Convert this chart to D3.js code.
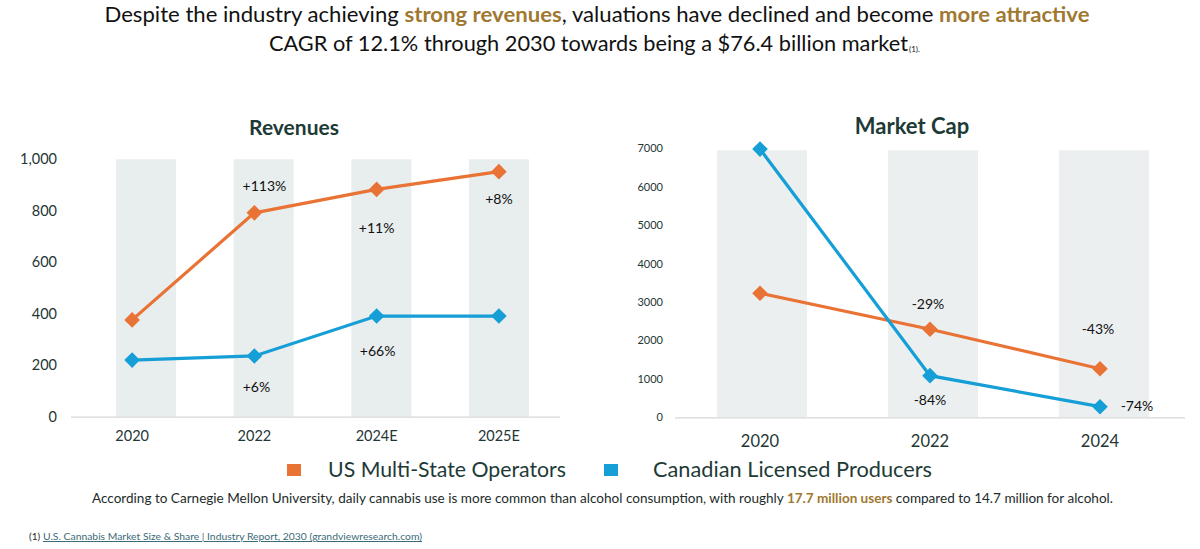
<!DOCTYPE html>
<html><head><meta charset="utf-8">
<script src="https://cdn.jsdelivr.net/npm/d3@7"></script>
<style>
html,body{margin:0;padding:0;background:#fff;}
svg{display:block;font-family:Lato,"Open Sans",sans-serif;}
</style></head>
<body>
<svg id="chart" width="1200" height="549"></svg>
<script>
// ---------- DATA ----------
const seriesNames = ["US Multi-State Operators", "Canadian Licensed Producers"];
const revCategories = ["2020", "2022", "2024E", "2025E"];
const revUS = [376, 792, 883, 952];
const revCA = [220, 236, 391, 391];
const revUSLabels = ["", "+113%", "+11%", "+8%"];
const revCALabels = ["", "+6%", "+66%", ""];
const revTicks = [0, 200, 400, 600, 800, 1000];

const capCategories = ["2020", "2022", "2024"];
const capUS = [3227, 2290, 1265];
const capCA = [6980, 1083, 276];
const capUSLabels = ["", "-29%", "-43%"];
const capCALabels = ["", "-84%", "-74%"];
const capTicks = [0, 1000, 2000, 3000, 4000, 5000, 6000, 7000];

// ---------- STYLE / LAYOUT ----------
const ORANGE = "#e97235", BLUE = "#159fd6", GOLD = "#a07830", DARK = "#1e3a36", TXT = "#243634";
const svg = d3.select("#chart");
const defs = svg.append("defs");
const f = defs.append("filter").attr("id", "sh").attr("x", "-5%").attr("y", "-200%").attr("width", "110%").attr("height", "600%");
f.append("feDropShadow").attr("dx", 0).attr("dy", 3).attr("stdDeviation", 2).attr("flood-color", "#000").attr("flood-opacity", 0.13);

// Header
const h1 = svg.append("text").attr("x", 597).attr("y", 22).attr("text-anchor", "middle")
  .attr("font-size", 21).attr("fill", "#111").attr("textLength", 985).attr("lengthAdjust", "spacingAndGlyphs");
h1.append("tspan").text("Despite the industry achieving ");
h1.append("tspan").attr("font-weight", "bold").attr("fill", GOLD).text("strong revenues");
h1.append("tspan").text(", valuations have declined and become ");
h1.append("tspan").attr("font-weight", "bold").attr("fill", GOLD).text("more attractive");
svg.append("text").attr("x", 269).attr("y", 51).attr("font-size", 21).attr("fill", "#111")
  .attr("textLength", 639).attr("lengthAdjust", "spacingAndGlyphs")
  .text("CAGR of 12.1% through 2030 towards being a $76.4 billion market");
svg.append("text").attr("x", 909).attr("y", 52).attr("font-size", 8).attr("fill", "#111").text("(1).");

function drawChart(cfg) {
  const g = svg.append("g");
  const y = d3.scaleLinear().domain(cfg.domain).range([cfg.y0, cfg.y1]);
  const xLine = d3.scaleBand().domain(cfg.cats).range([cfg.gx0, cfg.gx1]);
  const xCol = d3.scalePoint().domain(cfg.cats).range(cfg.colRange);
  // columns
  g.selectAll("rect.col").data(cfg.cats).join("rect").attr("class", "col")
    .attr("x", d => xCol(d) - cfg.colW / 2).attr("width", cfg.colW)
    .attr("y", y(cfg.domain[1]) + cfg.colTopPad).attr("height", y(0) - y(cfg.domain[1]) - cfg.colTopPad)
    .attr("fill", cfg.colFill);
  // y axis with gridlines
  const ax = g.append("g").attr("transform", `translate(${cfg.gx0},0)`)
    .call(d3.axisLeft(y).tickValues(cfg.ticks).tickSize(-(cfg.gx1 - cfg.gx0)).tickPadding(cfg.tickPad).tickFormat(cfg.fmt));
  ax.select(".domain").remove();
  ax.selectAll(".tick line").attr("stroke", d => d === 0 ? "#d6d9d9" : "#7d8a88").attr("stroke-width", 1.2)
    .attr("filter", d => d === 0 ? null : "url(#sh)");
  ax.selectAll(".tick text").attr("font-size", cfg.yFont).attr("fill", TXT).attr("font-family", "Lato");
  // x axis labels
  const xa = g.append("g").attr("transform", `translate(0,${cfg.xLabY})`)
    .call(d3.axisBottom(xLine).tickSize(0).tickPadding(0));
  xa.select(".domain").remove();
  xa.selectAll(".tick text").attr("font-size", cfg.xFont).attr("fill", TXT).attr("font-family", "Lato");
  // title
  g.append("text").attr("x", cfg.titleX).attr("y", cfg.titleY).attr("text-anchor", "middle")
    .attr("font-size", cfg.titleSize).attr("font-weight", "bold").attr("fill", DARK).text(cfg.title);
  // lines
  const cx = d => xLine(d) + xLine.bandwidth() / 2;
  cfg.series.forEach(s => {
    const pts = cfg.cats.map((c, i) => [cx(c), y(s.values[i])]);
    g.append("path").attr("d", d3.line()(pts)).attr("fill", "none").attr("stroke", s.color).attr("stroke-width", 3.2);
    g.selectAll(null).data(pts).join("path")
      .attr("d", d3.symbol(d3.symbolSquare, 122)())
      .attr("transform", p => `translate(${p[0]},${p[1]}) rotate(45)`).attr("fill", s.color);
    s.labels.forEach((lab, i) => {
      if (!lab) return;
      const off = s.offsets[i];
      g.append("text").attr("x", pts[i][0] + off[0]).attr("y", pts[i][1] + off[1])
        .attr("text-anchor", "middle").attr("dominant-baseline", "central")
        .attr("font-size", cfg.labFont).attr("fill", "#111").text(lab);
    });
  });
}

drawChart({
  title: "Revenues", titleX: 294, titleY: 135, titleSize: 21,
  cats: revCategories, domain: [0, 1000], y0: 416.7, y1: 159.3, ticks: revTicks, fmt: d3.format(","),
  gx0: 71, gx1: 560, colRange: [146, 499], colW: 60, colTopPad: 0, colFill: "#e8eded",
  tickPad: 14, yFont: 14.5, xFont: 14.5, xLabY: 431, labFont: 14,
  series: [
    { values: revUS, labels: revUSLabels, color: ORANGE, offsets: [[0,0],[10,-27],[0,38],[0,27]] },
    { values: revCA, labels: revCALabels, color: BLUE, offsets: [[0,0],[2,31],[1,34],[0,0]] }
  ]
});

drawChart({
  title: "Market Cap", titleX: 912, titleY: 134, titleSize: 22,
  cats: capCategories, domain: [0, 7000], y0: 417.3, y1: 148.3, ticks: capTicks, fmt: d3.format("d"),
  gx0: 675, gx1: 1185, colRange: [762, 1104], colW: 90, colTopPad: 2, colFill: "#eceff0",
  tickPad: 12, yFont: 11, xFont: 16.5, xLabY: 435, labFont: 14,
  series: [
    { values: capUS, labels: capUSLabels, color: ORANGE, offsets: [[0,0],[-2,-26],[-2,-40]] },
    { values: capCA, labels: capCALabels, color: BLUE, offsets: [[0,0],[0,24],[37,-1]] }
  ]
});

// Legend
const legend = svg.append("g");
[[287, ORANGE, 328, 238], [604, BLUE, 653, 279]].forEach((d, i) => {
  legend.append("rect").attr("x", d[0]).attr("y", 464).attr("width", 14).attr("height", 12).attr("fill", d[1]);
  legend.append("text").attr("x", d[2]).attr("y", 477).attr("font-size", 22).attr("fill", DARK)
    .attr("textLength", d[3]).attr("lengthAdjust", "spacingAndGlyphs").text(seriesNames[i]);
});

// Footnote
const fn = svg.append("text").attr("x", 92).attr("y", 503).attr("font-size", 13).attr("fill", "#1d2b2a")
  .attr("textLength", 1021).attr("lengthAdjust", "spacingAndGlyphs");
fn.append("tspan").text("According to Carnegie Mellon University, daily cannabis use is more common than alcohol consumption, with roughly ");
fn.append("tspan").attr("font-weight", "bold").attr("fill", GOLD).text("17.7 million users");
fn.append("tspan").text(" compared to 14.7 million for alcohol.");

const src = svg.append("text").attr("x", 29).attr("y", 540).attr("font-size", 10).attr("fill", "#1d2b2a");
src.append("tspan").text("(1) ");
svg.append("text").attr("x", 43).attr("y", 540).attr("font-size", 10).attr("fill", "#3b6a78")
  .attr("text-decoration", "underline").attr("textLength", 379).attr("lengthAdjust", "spacingAndGlyphs")
  .text("U.S. Cannabis Market Size & Share | Industry Report, 2030 (grandviewresearch.com)");
</script>
</body></html>
